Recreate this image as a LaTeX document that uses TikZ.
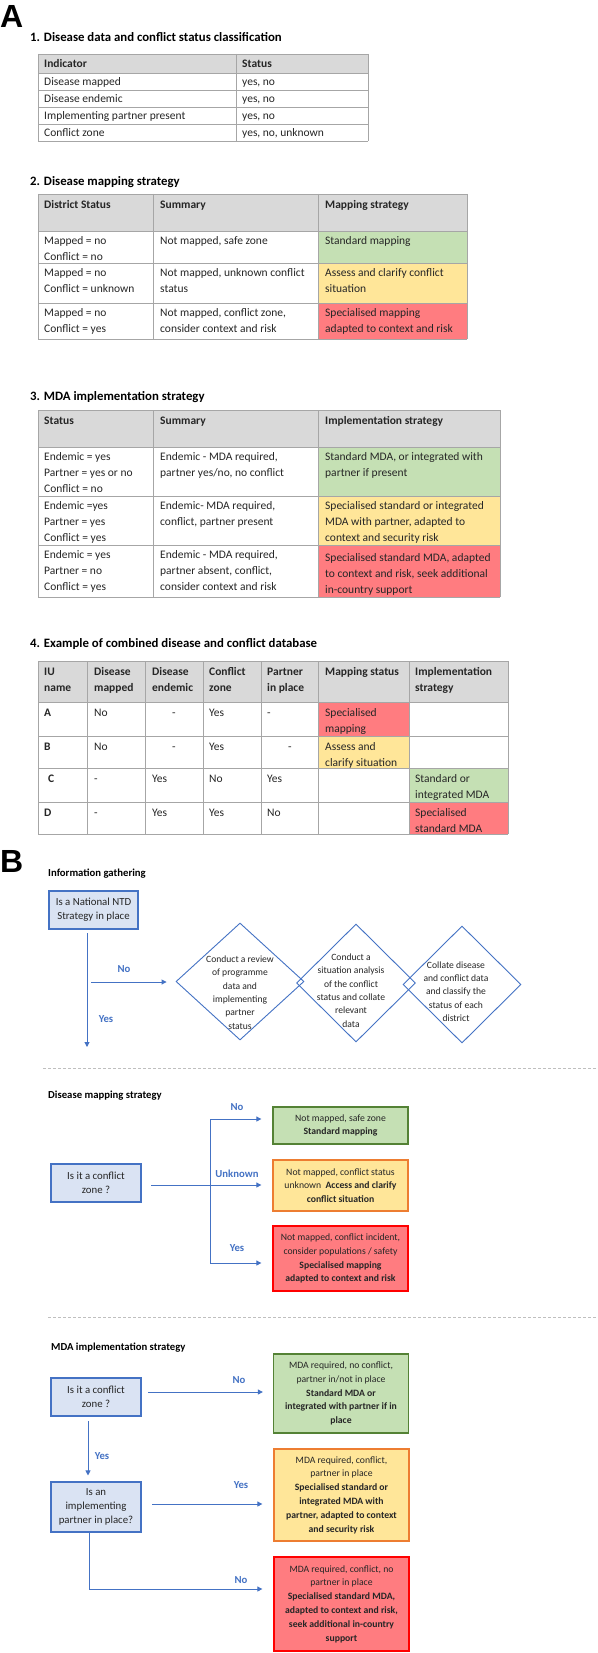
\documentclass[tikz,border=0pt]{standalone}
\usepackage{fontspec}
\setmainfont{Carlito}
\newfontfamily\bigsans{Liberation Sans}
\usetikzlibrary{arrows.meta,shapes.geometric}
\definecolor{bl}{HTML}{4472C4}
\definecolor{blfill}{HTML}{DAE3F3}
\definecolor{gfill}{HTML}{C5E0B4}
\definecolor{yfill}{HTML}{FFE699}
\definecolor{rfill}{HTML}{FF7C80}
\definecolor{hdr}{HTML}{D9D9D9}
\definecolor{rulec}{HTML}{A6A6A6}
\definecolor{gline}{HTML}{548235}
\definecolor{oline}{HTML}{ED7D31}
\definecolor{rline}{HTML}{FF0000}
\definecolor{txt}{HTML}{262626}
\definecolor{sepc}{HTML}{BFBFBF}
\newcommand\tabtxt[3]{\node[tt] at (#1,#2-10) {\rule{0pt}{10pt}#3};}
\newcommand\tabhd[3]{\node[tth] at (#1,#2-10) {\rule{0pt}{10pt}#3};}
\begin{document}
\begin{tikzpicture}[x=1pt,y=-1pt,
  tt/.style={inner sep=0pt,anchor=north west,align=left,text=txt,font=\fontsize{11.5}{16}\selectfont},
  tth/.style={tt,font=\fontsize{11.5}{16}\selectfont\bfseries},
  ttl/.style={inner sep=0pt,anchor=west,text=black,font=\fontsize{12.8}{15}\selectfont\bfseries},
  sect/.style={inner sep=0pt,anchor=west,text=black,font=\fontsize{10.7}{13}\selectfont\bfseries},
  rulel/.style={draw=rulec,line width=0.8pt},
  qbox/.style={draw=bl,fill=blfill,line width=1.1pt,inner sep=0pt,align=center,text=txt,font=\fontsize{10.8}{14}\selectfont},
  rbox/.style={line width=1.3pt,inner sep=0pt,align=center,text=txt,minimum width=135,font=\fontsize{9.7}{13.8}\selectfont},
  dia/.style={draw=bl,diamond,line width=0.9pt,inner sep=0pt},
  diat/.style={inner sep=0pt,align=center,text=txt,font=\fontsize{9.6}{13.4}\selectfont},
  lab/.style={inner sep=0pt,text=bl,font=\fontsize{10.7}{13}\selectfont\bfseries},
  ln/.style={draw=bl,line width=0.9pt},
  arr/.style={ln,-{Triangle[length=5pt,width=5pt]}},
  sep/.style={draw=sepc,line width=0.7pt,densely dashed}
]
\useasboundingbox (0,0) rectangle (597,1653);
\fill[white] (0,0) rectangle (597,1653);

% ---------------- A ----------------
\node[inner sep=0pt,anchor=west,font=\bigsans\fontsize{32}{32}\selectfont\bfseries] (lA) at (0,16.5) {A};

% Table 1
\node[ttl] (t1) at (30,37) {1. Disease data and conflict status classification};
\fill[hdr] (38,54) rectangle (368,73);
\foreach \y in {54,73,90,107,124,141} \draw[rulel] (38,\y) -- (368,\y);
\foreach \x in {38,236,368} \draw[rulel] (\x,54) -- (\x,141);
\tabhd{44}{67}{Indicator}
\tabhd{242}{67}{Status}
\tabtxt{44}{85.5}{Disease mapped}
\tabtxt{242}{85.5}{yes, no}
\tabtxt{44}{102.5}{Disease endemic}
\tabtxt{242}{102.5}{yes, no}
\tabtxt{44}{119.5}{Implementing partner present}
\tabtxt{242}{119.5}{yes, no}
\tabtxt{44}{136.5}{Conflict zone}
\tabtxt{242}{136.5}{yes, no, unknown}

% Table 2
\node[ttl] (t2) at (30,182) {2. Disease mapping strategy};
\fill[hdr] (38,194) rectangle (467,231);
\fill[gfill] (318,231) rectangle (467,263);
\fill[yfill] (318,263) rectangle (467,303);
\fill[rfill] (318,303) rectangle (467,339);
\foreach \y in {194,231,263,303,339} \draw[rulel] (38,\y) -- (467,\y);
\foreach \x in {38,153,318,467} \draw[rulel] (\x,194) -- (\x,339);
\tabhd{44}{208}{District Status}
\tabhd{160}{208}{Summary}
\tabhd{325}{208}{Mapping strategy}
\tabtxt{44}{244.5}{Mapped = no\\Conflict = no}
\tabtxt{160}{244.5}{Not mapped, safe zone}
\tabtxt{325}{244.5}{Standard mapping}
\tabtxt{44}{276.5}{Mapped = no\\Conflict = unknown}
\tabtxt{160}{276.5}{Not mapped, unknown conflict\\status}
\tabtxt{325}{276.5}{Assess and clarify conflict\\situation}
\tabtxt{44}{316.5}{Mapped = no\\Conflict = yes}
\tabtxt{160}{316.5}{Not mapped, conflict zone,\\consider context and risk}
\tabtxt{325}{316.5}{Specialised mapping\\adapted to context and risk}

% Table 3
\node[ttl] (t3) at (30,397) {3. MDA implementation strategy};
\fill[hdr] (38,410) rectangle (500,447);
\fill[gfill] (318,447) rectangle (500,496);
\fill[yfill] (318,496) rectangle (500,545);
\fill[rfill] (318,545) rectangle (500,597);
\foreach \y in {410,447,496,545,597} \draw[rulel] (38,\y) -- (500,\y);
\foreach \x in {38,153,318,500} \draw[rulel] (\x,410) -- (\x,597);
\tabhd{44}{424}{Status}
\tabhd{160}{424}{Summary}
\tabhd{325}{424}{Implementation strategy}
\tabtxt{44}{460.5}{Endemic = yes\\Partner = yes or no\\Conflict = no}
\tabtxt{160}{460.5}{Endemic - MDA required,\\partner yes/no, no conflict}
\tabtxt{325}{460.5}{Standard MDA, or integrated with\\partner if present}
\tabtxt{44}{509.5}{Endemic =yes\\Partner = yes\\Conflict = yes}
\tabtxt{160}{509.5}{Endemic- MDA required,\\conflict, partner present}
\tabtxt{325}{509.5}{Specialised standard or integrated\\MDA with partner, adapted to\\context and security risk}
\tabtxt{44}{558.5}{Endemic = yes\\Partner = no\\Conflict = yes}
\tabtxt{160}{558.5}{Endemic - MDA required,\\partner absent, conflict,\\consider context and risk}
\tabtxt{325}{561}{Specialised standard MDA, adapted\\to context and risk, seek additional\\in-country support}

% Table 4
\node[ttl] (t4) at (30,644) {4. Example of combined disease and conflict database};
\fill[hdr] (38,661) rectangle (508,702);
\fill[rfill] (318,702) rectangle (409,736);
\fill[yfill] (318,736) rectangle (409,768);
\fill[gfill] (409,768) rectangle (508,802);
\fill[rfill] (409,802) rectangle (508,834);
\foreach \y in {661,702,736,768,802,834} \draw[rulel] (38,\y) -- (508,\y);
\foreach \x in {38,87,145,203,261,318,409,508} \draw[rulel] (\x,661) -- (\x,834);
\tabhd{44}{675}{IU\\name}
\tabhd{94}{675}{Disease\\mapped}
\tabhd{152}{675}{Disease\\endemic}
\tabhd{209}{675}{Conflict\\zone}
\tabhd{267}{675}{Partner\\in place}
\tabhd{325}{675}{Mapping status}
\tabhd{415}{675}{Implementation\\strategy}
\tabhd{44}{716}{A}
\tabtxt{94}{716}{No}
\tabtxt{172}{716}{-}
\tabtxt{209}{716}{Yes}
\tabtxt{267}{716}{-}
\tabtxt{325}{716}{Specialised\\mapping}
\tabhd{44}{750}{B}
\tabtxt{94}{750}{No}
\tabtxt{172}{750}{-}
\tabtxt{209}{750}{Yes}
\tabtxt{288}{750}{-}
\tabtxt{325}{750}{Assess and\\clarify situation}
\tabhd{48}{782}{C}
\tabtxt{94}{782}{-}
\tabtxt{152}{782}{Yes}
\tabtxt{209}{782}{No}
\tabtxt{267}{782}{Yes}
\tabtxt{415}{782}{Standard or\\integrated MDA}
\tabhd{44}{816}{D}
\tabtxt{94}{816}{-}
\tabtxt{152}{816}{Yes}
\tabtxt{209}{816}{Yes}
\tabtxt{267}{816}{No}
\tabtxt{415}{816}{Specialised\\standard MDA}

% ---------------- B ----------------
\node[inner sep=0pt,anchor=west,font=\bigsans\fontsize{32}{32}\selectfont\bfseries] (lB) at (0,861) {B};

% Information gathering
\node[sect] (s1) at (48,874) {Information gathering};
\node[qbox,minimum width=89,minimum height=38] (q1) at (93.5,910) {Is a National NTD\\Strategy in place};
\node[dia,minimum width=128,minimum height=117] (d1) at (240,981.5) {};
\node[dia,minimum width=119,minimum height=118] (d2) at (356,983) {};
\node[dia,minimum width=118,minimum height=117] (d3) at (462,984.5) {};
\node[diat] (d1t) at (240,992.5) {Conduct a review\\of programme\\data and\\implementing\\partner\\status};
\node[diat] (d2t) at (351,990.5) {Conduct a\\situation analysis\\of the conflict\\status and collate\\relevant\\data};
\node[diat] (d3t) at (456,991.5) {Collate disease\\and conflict data\\and classify the\\status of each\\district};
\coordinate (v1a) at (87,933);
\coordinate (v1b) at (87,1047);
\draw[arr] (v1a) -- (v1b);
\coordinate (noS) at (91,982);
\draw[arr,shorten >=9pt] (noS) -- (noS -| d1.west);
\node[lab] (l1) at (124,969) {No};
\node[lab] (l2) at (106,1019) {Yes};

\draw[sep] (43,1068) -- (597,1068);

% Disease mapping strategy
\node[sect] (s2) at (48,1096) {Disease mapping strategy};
\node[qbox,minimum width=90,minimum height=38] (q2) at (96,1183) {Is it a conflict\\zone ?};
\node[rbox,draw=gline,fill=gfill,minimum height=37] (g1) at (340.5,1125.5) {Not mapped, safe zone\\\textbf{Standard mapping}};
\node[rbox,draw=oline,fill=yfill,minimum height=51] (o1) at (340.5,1185.5) {Not mapped, conflict status\\unknown\ \ \textbf{Access and clarify}\\\textbf{conflict situation}};
\node[rbox,draw=rline,fill=rfill,minimum height=65] (r1) at (340.5,1258.5) {Not mapped, conflict incident,\\consider populations / safety\\\textbf{Specialised mapping}\\\textbf{adapted to context and risk}};
\coordinate (m0) at (151,1185);
\draw[arr,shorten >=11pt] (m0) -- (m0 -| o1.west);
\coordinate (mt) at (210,1119);
\coordinate (mb) at (210,1263);
\draw[ln] (mt) -- (mb);
\draw[arr,shorten >=11pt] (mt) -- (mt -| g1.west);
\draw[arr,shorten >=11pt] (mb) -- (mb -| r1.west);
\node[lab] (l3) at (237,1107) {No};
\node[lab] (l4) at (237,1174) {Unknown};
\node[lab] (l5) at (237,1248) {Yes};

\draw[sep] (48,1317) -- (597,1317);

% MDA implementation strategy
\node[sect] (s3) at (51,1348) {MDA implementation strategy};
\node[qbox,minimum width=90,minimum height=38] (q3) at (96,1397) {Is it a conflict\\zone ?};
\node[qbox,minimum width=90,minimum height=50] (q4) at (96,1507) {Is an\\implementing\\partner in place?};
\node[rbox,draw=gline,fill=gfill,minimum height=79] (g2) at (341,1393.5) {MDA required, no conflict,\\partner in/not in place\\\textbf{Standard MDA or}\\\textbf{integrated with partner if in}\\\textbf{place}};
\node[rbox,draw=oline,fill=yfill,minimum height=92] (o2) at (341.5,1495) {MDA required, conflict,\\partner in place\\\textbf{Specialised standard or}\\\textbf{integrated MDA with}\\\textbf{partner, adapted to context}\\\textbf{and security risk}};
\node[rbox,draw=rline,fill=rfill,minimum height=94] (r2) at (341.5,1604) {MDA required, conflict, no\\partner in place\\\textbf{Specialised standard MDA,}\\\textbf{adapted to context and risk,}\\\textbf{seek additional in-country}\\\textbf{support}};
\coordinate (n0) at (148,1392);
\draw[arr,shorten >=10pt] (n0) -- (n0 -| g2.west);
\coordinate (y0) at (88,1421);
\draw[arr,shorten >=6pt] (y0) -- (y0 |- q4.north);
\coordinate (p0) at (152,1504);
\draw[arr,shorten >=11pt] (p0) -- (p0 -| o2.west);
\coordinate (p1) at (89,1532);
\coordinate (p2) at (89,1589);
\draw[arr,shorten >=11pt] (p1) -- (p2) -- (p2 -| r2.west);
\node[lab] (l6) at (239,1380) {No};
\node[lab] (l7) at (102,1456) {Yes};
\node[lab] (l8) at (241,1485) {Yes};
\node[lab] (l9) at (241,1580) {No};
\end{tikzpicture}
\end{document}
